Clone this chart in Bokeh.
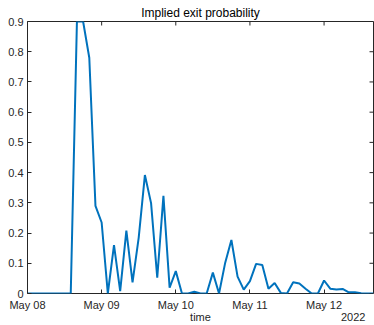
import math
import pandas as pd
from bokeh.plotting import figure
from bokeh.models import Range1d, FixedTicker, DatetimeAxis
from bokeh.embed import file_html
from bokeh.resources import INLINE

# ---- data (2-hourly samples from 2022-05-08 00:00) ----
start_time = "2022-05-08 00:00"
step = "2h"
prob = [0, 0, 0, 0, 0, 0, 0, 0, 0.9, 0.9,
        0.78, 0.29, 0.235, 0, 0.16, 0.008, 0.208, 0.037, 0.185, 0.392,
        0.299, 0.052, 0.323, 0.019, 0.074, 0, 0, 0.006, 0, 0,
        0.069, 0, 0.102, 0.177, 0.056, 0.013, 0.041, 0.098, 0.094, 0.016,
        0.035, 0.002, 0, 0.037, 0.033, 0.016, 0, 0, 0.043, 0.016,
        0.013, 0.015, 0.004, 0.004, 0.001, 0, 0]
times = pd.date_range(start_time, periods=len(prob), freq=step)

xtick_dates = ["2022-05-08", "2022-05-09", "2022-05-10", "2022-05-11", "2022-05-12"]
xtick_labels = ["May 08", "May 09", "May 10", "May 11", "May 12"]
ytick_vals = [0, 0.1, 0.2, 0.3, 0.4, 0.5, 0.6, 0.7, 0.8, 0.9]
ytick_labels = ["0", "0.1", "0.2", "0.3", "0.4", "0.5", "0.6", "0.7", "0.8", "0.9"]
title_text = "Implied exit probability"
xlabel_text = "time"
year_text = "2022"
year_label_time = "2022-05-12 09:25"

AX = "#262626"
FONT = "Liberation Sans"

def ms(t):
    return int(pd.Timestamp(t).value // 10**6)

xtick_ms = [ms(d) for d in xtick_dates]
mid_ms = (ms(times[0]) + ms(times[-1])) // 2

p = figure(width=374, height=325, x_axis_type="datetime",
           output_backend="svg", toolbar_location=None,
           x_range=Range1d(times[0], times[-1]), y_range=Range1d(0, 0.9),
           min_border_left=27, min_border_right=1,
           min_border_top=21, min_border_bottom=31)
p.background_fill_color = "white"
p.border_fill_color = "white"
p.grid.visible = False
p.outline_line_color = AX
p.outline_line_alpha = 1
p.outline_line_width = 1

p.title.text = title_text
p.title.align = "center"
p.title.text_font = FONT
p.title.text_font_size = "12px"
p.title.text_font_style = "normal"
p.title.text_color = "black"
p.title.standoff = 4

p.line(times, prob, line_color="#0072BD", line_width=2)

# mirrored inward ticks on top and right edges (half clipped by frame)
p.scatter(xtick_ms, [ytick_vals[-1]] * len(xtick_ms), marker="dash",
          angle=math.pi / 2, size=8, line_color=AX, line_width=1)
p.scatter([times[-1]] * len(ytick_vals), ytick_vals, marker="dash",
          size=8, line_color=AX, line_width=1)

xa = p.xaxis[0]
xa.ticker = FixedTicker(ticks=xtick_ms)
xa.major_label_overrides = dict(zip(xtick_ms, xtick_labels))
xa.major_label_standoff = 5
ya = p.yaxis[0]
ya.ticker = FixedTicker(ticks=ytick_vals)
ya.major_label_overrides = dict(zip(ytick_vals, ytick_labels))
ya.major_label_standoff = 4

for ax in (xa, ya):
    ax.axis_line_color = None
    ax.major_tick_in = 4
    ax.major_tick_out = 0
    ax.major_tick_line_color = AX
    ax.minor_tick_line_color = None
    ax.major_label_text_font = FONT
    ax.major_label_text_font_size = "11px"
    ax.major_label_text_color = AX

# second row below: "time" centred and "2022" at the right
lab = DatetimeAxis(ticker=FixedTicker(ticks=[mid_ms, ms(year_label_time)]))
lab.major_label_overrides = {mid_ms: xlabel_text, ms(year_label_time): year_text}
lab.axis_line_color = None
lab.major_tick_line_color = None
lab.minor_tick_line_color = None
lab.major_tick_in = 0
lab.major_tick_out = 0
lab.major_label_standoff = -3
lab.major_label_text_font = FONT
lab.major_label_text_font_size = "11px"
lab.major_label_text_color = AX
p.add_layout(lab, "below")

open("out.html", "w").write(file_html(p, INLINE))
